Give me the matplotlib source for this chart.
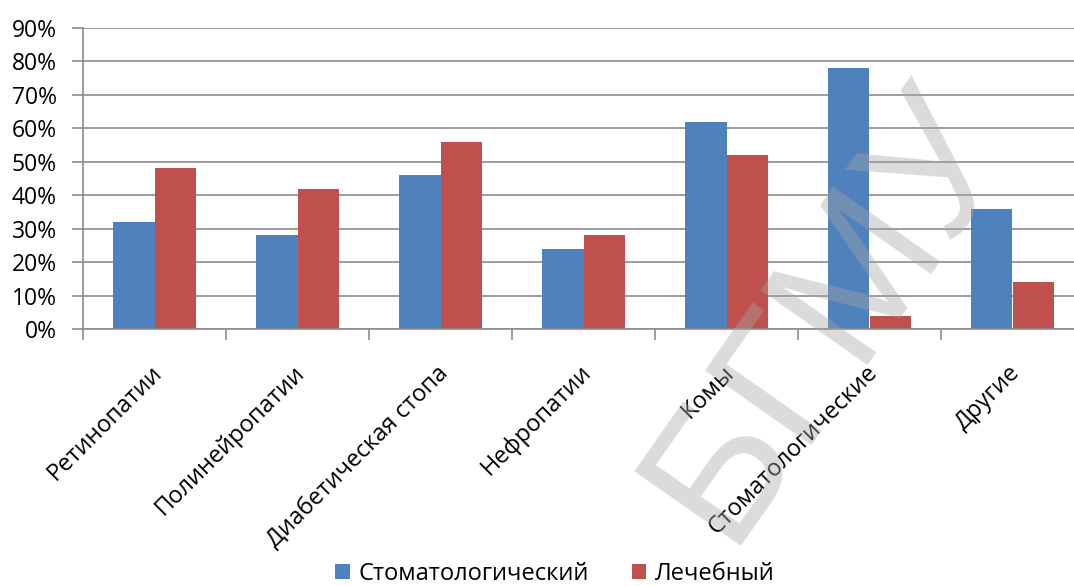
import numpy as np
import matplotlib
matplotlib.use("Agg")
import matplotlib.pyplot as plt
import matplotlib.ticker as mticker

categories = ["Ретинопатии", "Полинейропатии", "Диабетическая стопа", "Нефропатии",
              "Комы", "Стоматологические", "Другие"]
stomat = [32, 28, 46, 24, 62, 78, 36]
lechebn = [48, 42, 56, 28, 52, 4, 14]
series_names = ["Стоматологический", "Лечебный"]

plt.rcParams['font.family'] = ['Open Sans', 'DejaVu Sans']

fig = plt.figure(figsize=(10.74, 5.86), dpi=100)
ax = fig.add_axes([83 / 1074, 1 - 329 / 586, 1001 / 1074, 301 / 586])

x = np.arange(len(categories))
w = 0.287
ax.bar(x - w / 2, stomat, w, color="#4f81bd", label=series_names[0], zorder=2)
ax.bar(x + w / 2, lechebn, w, color="#c0504d", label=series_names[1], zorder=2)

ax.set_xlim(-0.5, len(categories) - 0.5)
ax.set_ylim(0, 90)
ax.set_yticks(range(0, 91, 10))
ax.yaxis.set_major_formatter(mticker.FuncFormatter(lambda v, p: f"{int(v)}%"))
ax.yaxis.grid(True, color="#8c8c8c", linewidth=1.2, zorder=0)
ax.set_axisbelow(True)

for s in ["top", "right"]:
    ax.spines[s].set_visible(False)
for s in ["left", "bottom"]:
    ax.spines[s].set_color("#8c8c8c")
    ax.spines[s].set_linewidth(1.2)

ax.set_xticks(np.arange(len(categories) + 1) - 0.5)
ax.set_xticklabels([])
ax.tick_params(axis="x", length=8, color="#8c8c8c", width=1.2)
ax.tick_params(axis="y", length=8, color="#8c8c8c", width=1.2, labelsize=16.5, pad=11)

for i, c in enumerate(categories):
    ax.text(i - 0.03, -9.5, c, rotation=45, ha="right", va="top", fontsize=17,
            rotation_mode="anchor")

fig.legend(*ax.get_legend_handles_labels(), loc="center", bbox_to_anchor=(0.517, 0.02),
           ncol=2, frameon=False, fontsize=17, handlelength=0.6, handleheight=0.6,
           handletextpad=0.4, columnspacing=1.8, borderpad=0)

# watermark
fig.text(0.772, 0.465, "БГМУ", rotation=55, fontsize=136, color="#a6a6a6",
         alpha=0.4, ha="center", va="center",
         family=["Liberation Sans", "DejaVu Sans"], zorder=10)

fig.savefig("out.png", dpi=100)
